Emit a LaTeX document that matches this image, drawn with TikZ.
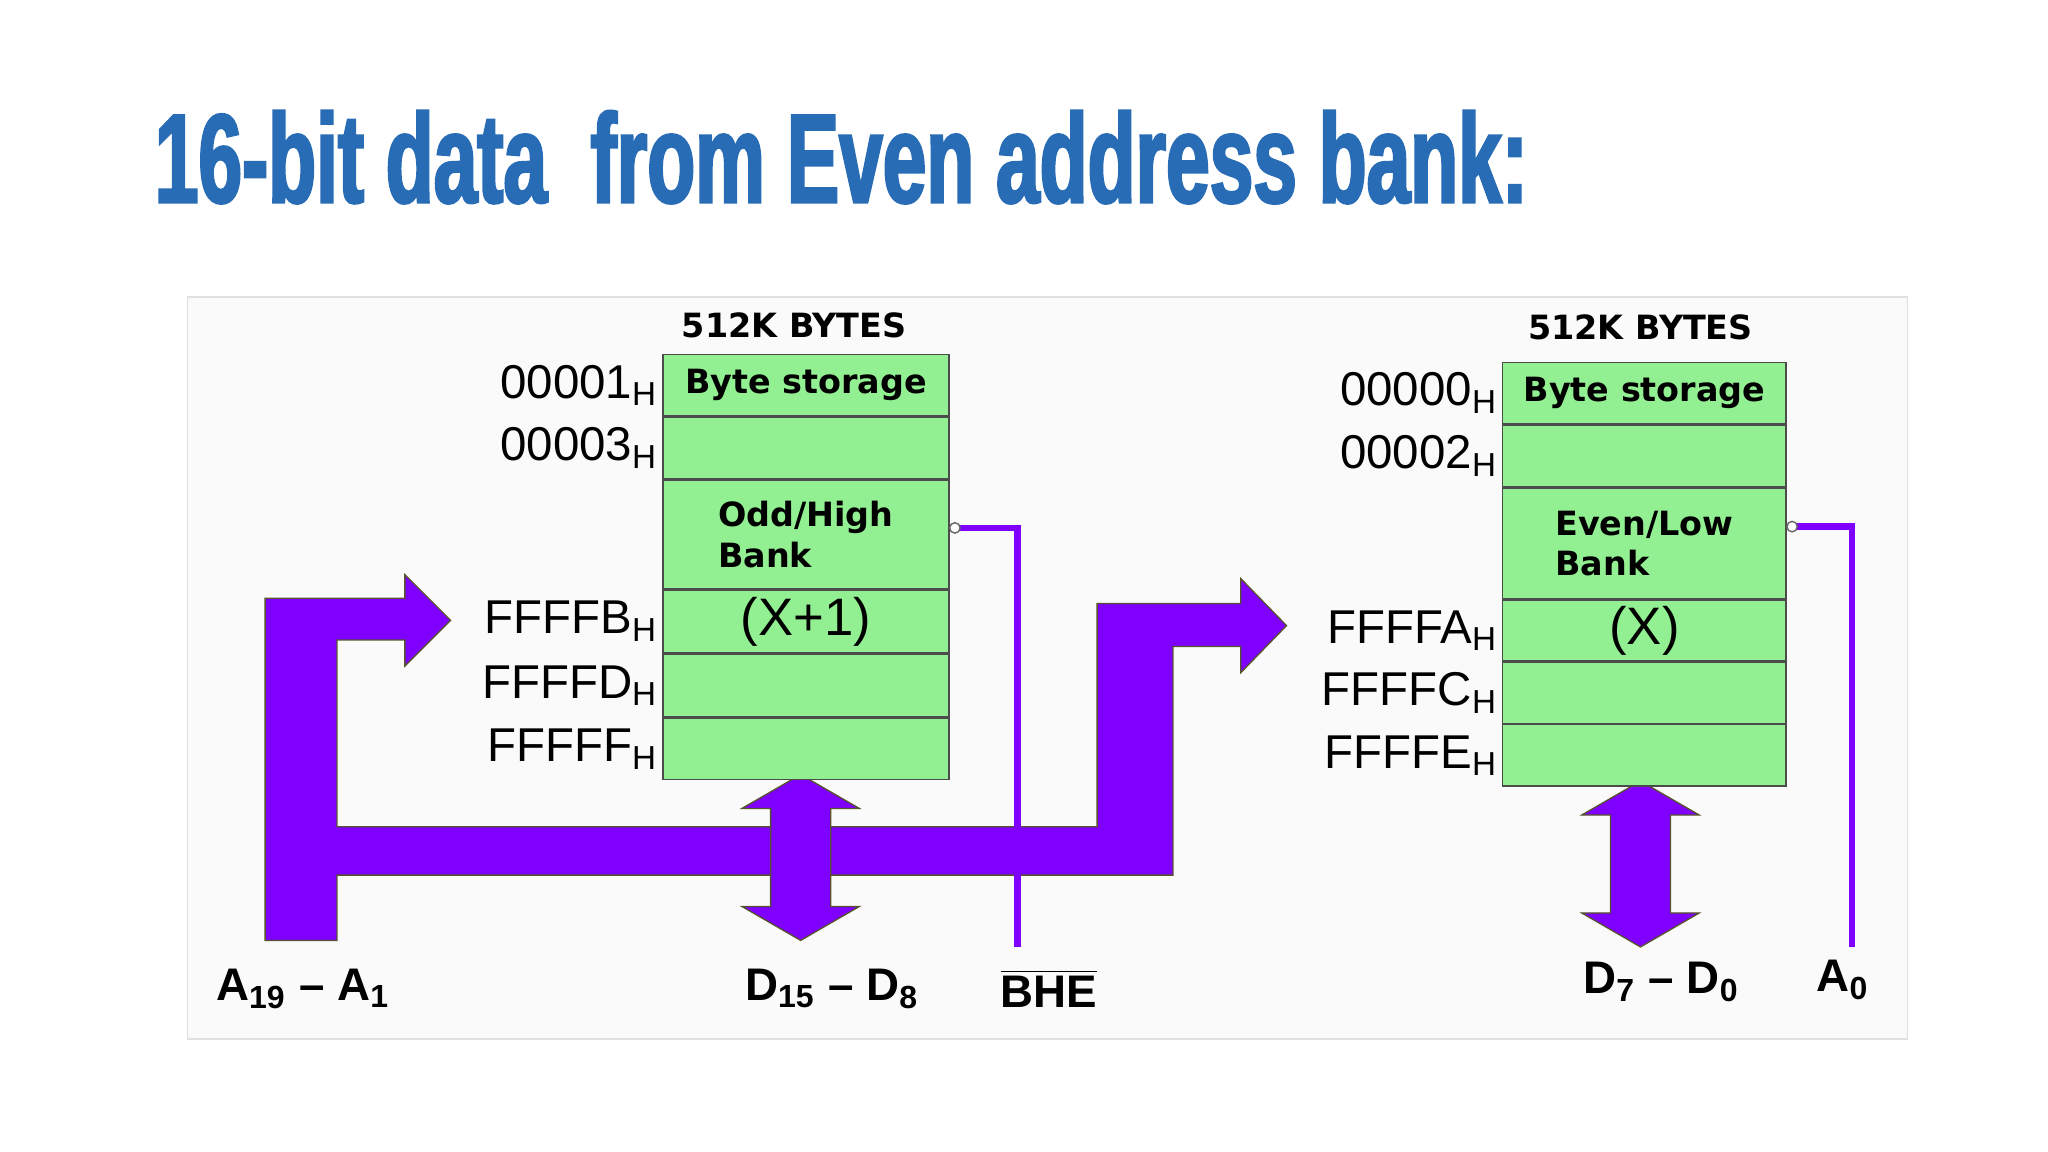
\documentclass[tikz,border=0pt]{standalone}
\usepackage{fontspec}
\setmainfont{Liberation Sans}
\newfontfamily\titlefont{Liberation Sans}[FakeStretch=0.62, FakeBold=2]
\newfontfamily\boxfont{DejaVu Sans}
\usetikzlibrary{positioning}
\newlength\pxl \setlength\pxl{0.013061cm}
\definecolor{titleblue}{RGB}{40,108,182}
\definecolor{bus}{RGB}{127,0,255}
\definecolor{cellgreen}{RGB}{146,240,146}
\begin{document}
\begin{tikzpicture}[x=0.013061cm, y=-0.013061cm,
  cell/.style={draw=black!70, fill=cellgreen, minimum width=219\pxl, inner sep=0pt,
    anchor=north west, font=\boxfont\bfseries\fontsize{9.5}{11.5}\selectfont},
  addr/.style={anchor=east, inner sep=1pt, font=\fontsize{13.5}{16}\selectfont},
  hdr/.style={font=\boxfont\bfseries\fontsize{9.5}{12}\selectfont},
  pin/.style={font=\bfseries\fontsize{13}{15}\selectfont},
  wire/.style={draw=bus, line width=5\pxl},
  busfill/.style={fill=bus, draw=black!50!olive, line width=1\pxl}
]
\useasboundingbox[fill=white] (0,0) rectangle (1568,882);
% title
\node[anchor=base west, inner sep=0pt, text=titleblue, font=\titlefont\bfseries\fontsize{36}{40}\selectfont]
  (title) at (118,155) {16-bit data\ \ from Even address bank:};
% panel
\node[draw=black!12, fill=black!2, minimum width=1317\pxl, minimum height=568\pxl, anchor=north west, inner sep=0pt]
  (panel) at (143,227) {};

% address bus
\path[busfill] (203,720) -- (203,458) -- (310,458) -- (310,440) -- (345,475) -- (310,510)
  -- (310,490) -- (258,490) -- (258,633) -- (840,633) -- (840,462) -- (950,462) -- (950,443)
  -- (985,479) -- (950,515) -- (950,495) -- (898,495) -- (898,670) -- (258,670) -- (258,720) -- cycle;
% data buses
\foreach \cx/\ty/\by in {613/593/720, 1256/598/725}{
  \path[busfill] (\cx,\ty) -- (\cx+45,\ty+26) -- (\cx+23,\ty+26) -- (\cx+23,\by-26) -- (\cx+45,\by-26)
    -- (\cx,\by) -- (\cx-45,\by-26) -- (\cx-23,\by-26) -- (\cx-23,\ty+26) -- (\cx-45,\ty+26) -- cycle;
}

% odd bank
\node[hdr] (lhdr) at (608,249) {512K BYTES};
\node[cell, minimum height=47\pxl] (L1) at (507,271) {Byte storage};
\node[cell, minimum height=47\pxl, below=0pt of L1] (L2) {};
\node[cell, minimum height=83\pxl, below=0pt of L2, align=left] (L3) {Odd/High\\Bank\hspace*{48\pxl}};
\node[cell, minimum height=48\pxl, below=0pt of L3, font=\fontsize{15}{17}\selectfont] (L4) {(X+1)};
\node[cell, minimum height=48\pxl, below=0pt of L4] (L5) {};
\node[cell, minimum height=47\pxl, below=0pt of L5] (L6) {};
\node[addr] (a1) at (L1.west) {00001\textsubscript{H}};
\node[addr] (a3) at (L2.west) {00003\textsubscript{H}};
\node[addr] (aB) at (L4.west) {FFFFB\textsubscript{H}};
\node[addr] (aD) at (L5.west) {FFFFD\textsubscript{H}};
\node[addr] (aF) at (L6.west) {FFFFF\textsubscript{H}};

% even bank
\node[hdr] (rhdr) at (1256,251) {512K BYTES};
\node[cell, minimum width=217\pxl, minimum height=47\pxl] (R1) at (1150,277) {Byte storage};
\node[cell, minimum width=217\pxl, minimum height=47\pxl, below=0pt of R1] (R2) {};
\node[cell, minimum width=217\pxl, minimum height=85\pxl, below=0pt of R2, align=left] (R3) {Even/Low\\Bank\hspace*{48\pxl}};
\node[cell, minimum width=217\pxl, minimum height=46\pxl, below=0pt of R3, font=\fontsize{15}{17}\selectfont] (R4) {(X)};
\node[cell, minimum width=217\pxl, minimum height=47\pxl, below=0pt of R4] (R5) {};
\node[cell, minimum width=217\pxl, minimum height=47\pxl, below=0pt of R5] (R6) {};
\node[addr] (a0) at (R1.west) {00000\textsubscript{H}};
\node[addr] (a2) at (R2.west) {00002\textsubscript{H}};
\node[addr] (aA) at (R4.west) {FFFFA\textsubscript{H}};
\node[addr] (aC) at (R5.west) {FFFFC\textsubscript{H}};
\node[addr] (aE) at (R6.west) {FFFFE\textsubscript{H}};

% pins
\node[pin] (pA) at (232,757) {A\textsubscript{19} -- A\textsubscript{1}};
\node[pin] (pDh) at (637,757) {D\textsubscript{15} -- D\textsubscript{8}};
\node[pin] (pBHE) at (803,757) {$\overline{\mbox{BHE}}$};
\node[pin] (pDl) at (1272,752) {D\textsubscript{7} -- D\textsubscript{0}};
\node[pin] (pA0) at (1411,750) {A\textsubscript{0}};

% enable lines
\coordinate (bhe) at (779,725);
\coordinate (a0end) at (1418,725);
\coordinate (oddpin) at ([xshift=4\pxl, yshift=5\pxl]L3.east);
\coordinate (evenpin) at ([xshift=4\pxl, yshift=13\pxl]R3.east);
\draw[wire] (oddpin) -| (bhe);
\draw[wire] (evenpin) -| (a0end);
\draw[fill=white, draw=black!60] (oddpin) circle[radius=4\pxl];
\draw[fill=white, draw=black!60] (evenpin) circle[radius=4\pxl];
\end{tikzpicture}
\end{document}
